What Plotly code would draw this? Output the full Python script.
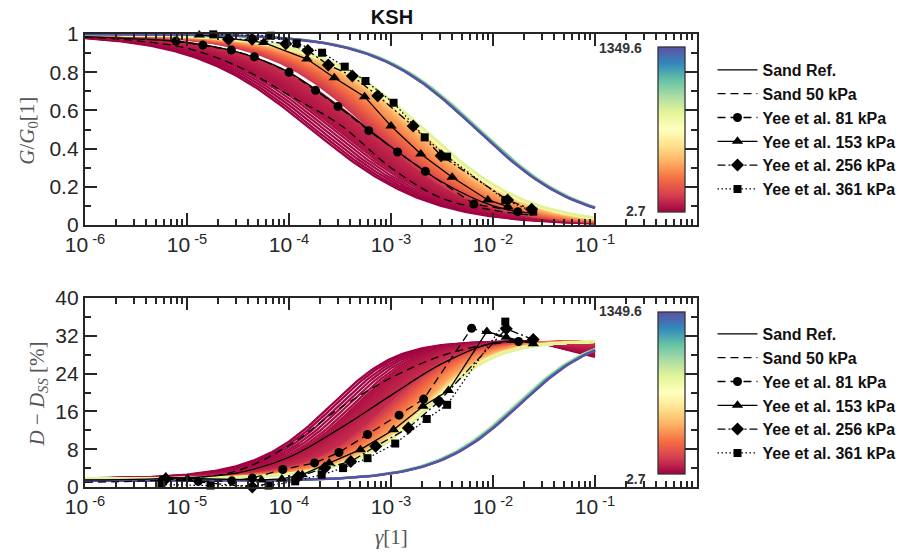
import numpy as np
import plotly.graph_objects as go
from plotly.colors import sample_colorscale

# ------------------------------------------------------------------
# Values
# ------------------------------------------------------------------
TITLE = "KSH"
P_MIN, P_MAX = 2.7, 1349.6          # colour-bar limits (kPa)
COLORSCALE = "Spectral"

X_TICK_VALS = [1e-6, 1e-5, 1e-4, 1e-3, 1e-2, 1e-1]
X_TICK_TEXT = ["10<sup> -6</sup>", "10<sup> -5</sup>", "10<sup> -4</sup>",
               "10<sup> -3</sup>", "10<sup> -2</sup>", "10<sup> -1</sup>"]
G_TICK_VALS = [0, 0.2, 0.4, 0.6, 0.8, 1.0]
G_TICK_TEXT = ["0", "0.2", "0.4", "0.6", "0.8", "1"]
D_TICK_VALS = [0, 8, 16, 24, 32, 40]
D_TICK_TEXT = ["0", "8", "16", "24", "32", "40"]

# Model-curve family: confining pressures of the plotted curves (kPa)
BAND_P_LOW = [2.7, 8, 14, 20, 26, 32, 37]
BAND_P_DENSE = [42, 46, 50, 54, 58, 62, 66, 70, 74, 78, 82, 86, 90, 94, 98]
BAND_P_UPPER = list(range(120, 823, 13))
# reference strains / curvature (pressure -> parameter)
BAND_ANCHOR_P = [2.7, 37, 42, 98, 120, 272, 407, 540, 680, 822]
BAND_ANCHOR_GREF = [1.66e-4, 2.95e-4, 3.1e-4, 6.0e-4, 6.4e-4, 1.02e-3, 1.58e-3, 1.9e-3, 2.03e-3, 2.1e-3]
BAND_ANCHOR_DREF = [3.36e-4, 5.9e-4, 6.2e-4, 1.17e-3, 1.25e-3, 1.82e-3, 2.6e-3, 2.95e-3, 3.1e-3, 3.16e-3]
BAND_ANCHOR_CURV = [0.75, 0.75, 0.75, 0.75, 0.84, 0.84, 0.84, 0.84, 0.84, 0.84]
BAND_D_MIN, BAND_D_MAX = 1.7, 30.9
BAND_D_EXP = (1.4, 0.7)
BAND_DECLINE_MAX = 0.115            # large-strain damping drop of the lowest curves

# High-pressure group (teal -> purple)
HI_P = [880, 975, 1070, 1160, 1255, 1349.6]
HI_GREF = [7.45e-3, 7.3e-3, 7.15e-3, 7.0e-3, 6.95e-3, 6.9e-3]
HI_DREF = [2.05e-2, 2.1e-2, 2.15e-2, 2.2e-2, 2.23e-2, 2.25e-2]
HI_CURV_G = 0.87
HI_D_MIN, HI_D_MAX = 1.3, 32.5
HI_D_EXP = (1.2, 0.8)

# Sand reference curves
SAND_REF_G_X = [1e-6, 3.16e-6, 1e-5, 3.16e-5, 1e-4, 3.16e-4, 1e-3, 3.16e-3, 1e-2, 2.5e-2]
SAND_REF_G_Y = [0.985, 0.975, 0.955, 0.905, 0.80, 0.615, 0.41, 0.225, 0.10, 0.06]
SAND50_G_X = [1e-6, 3.16e-6, 1e-5, 3.16e-5, 1e-4, 3.16e-4, 1e-3, 3.16e-3, 1e-2, 2.5e-2]
SAND50_G_Y = [0.983, 0.965, 0.925, 0.83, 0.68, 0.525, 0.30, 0.14, 0.078, 0.05]
SAND_REF_D_X = [1e-6, 1e-5, 3.16e-5, 1e-4, 3.16e-4, 1e-3, 3.16e-3, 1e-2, 2.5e-2]
SAND_REF_D_Y = [1.5, 2.0, 3.0, 6.3, 12.4, 19.4, 26.1, 30.5, 30.8]
SAND50_D_X = [1e-6, 1e-5, 3.16e-5, 1e-4, 3.16e-4, 1e-3, 3.16e-3, 1e-2, 2.5e-2]
SAND50_D_Y = [1.0, 1.8, 3.5, 8.8, 16.7, 23.1, 27.8, 30.3, 30.8]

# Yee et al. data - G/G0
YEE81_G_X = [7.8e-6, 1.43e-5, 2.72e-5, 4.57e-5, 1.0e-4, 1.82e-4, 3.02e-4, 6.05e-4, 1.16e-3, 2.17e-3, 6.5e-3, 1.75e-2]
YEE81_G_Y = [0.963, 0.942, 0.916, 0.881, 0.80, 0.705, 0.621, 0.494, 0.382, 0.281, 0.110, 0.070]
YEE153_G_X = [1.32e-5, 5.66e-5, 1.50e-4, 2.78e-4, 5.51e-4, 1.0e-3, 1.96e-3, 3.98e-3, 8.9e-3, 1.40e-2]
YEE153_G_Y = [0.995, 0.955, 0.869, 0.771, 0.672, 0.518, 0.372, 0.25, 0.131, 0.096]
YEE256_G_X = [2.55e-5, 4.35e-5, 9.3e-5, 1.53e-4, 2.43e-4, 4.18e-4, 7.41e-4, 1.65e-3, 3.10e-3, 1.39e-2, 2.39e-2]
YEE256_G_Y = [0.972, 0.972, 0.949, 0.913, 0.838, 0.78, 0.677, 0.518, 0.363, 0.131, 0.082]
YEE361_G_X = [1.81e-5, 6.64e-5, 1.19e-4, 2.11e-4, 3.52e-4, 5.62e-4, 1.06e-3, 2.14e-3, 3.55e-3, 1.32e-2, 2.48e-2]
YEE361_G_Y = [0.998, 0.991, 0.951, 0.902, 0.829, 0.754, 0.64, 0.459, 0.358, 0.131, 0.07]

# Yee et al. data - damping
YEE81_D_X = [5.75e-6, 1.29e-5, 2.75e-5, 4.37e-5, 8.7e-5, 1.78e-4, 3.09e-4, 5.89e-4, 1.20e-3, 2.09e-3, 6.17e-3, 1.78e-2]
YEE81_D_Y = [1.5, 1.2, 1.3, 1.9, 3.7, 5.1, 7.3, 11.1, 15.2, 18.6, 33.6, 30.8]
YEE153_D_X = [6.21e-6, 1.01e-5, 5.37e-5, 8.51e-5, 1.35e-4, 2.48e-4, 5.01e-4, 1.06e-3, 2.06e-3, 3.66e-3, 8.71e-3, 1.35e-2, 2.48e-2]
YEE153_D_Y = [2.1, 1.8, 1.5, 1.7, 2.6, 5.1, 7.9, 12.1, 17.1, 20.4, 32.9, 31.7, 30.3]
YEE256_D_X = [6.17e-6, 4.37e-5, 1.23e-4, 2.24e-4, 4.03e-4, 7.08e-4, 1.48e-3, 2.95e-3, 1.35e-2, 2.48e-2]
YEE256_D_Y = [1.7, 0.0, 2.2, 4.0, 5.4, 8.6, 12.5, 18.1, 33.5, 31.2]
YEE361_D_X = [5.62e-6, 1.70e-5, 6.31e-5, 1.15e-4, 2.09e-4, 3.39e-4, 5.89e-4, 1.10e-3, 2.24e-3, 3.55e-3, 1.32e-2]
YEE361_D_Y = [0.5, 0.3, 0.3, 1.2, 2.6, 4.0, 6.1, 9.2, 14.4, 17.4, 35.0]

# ------------------------------------------------------------------
# Geometry helpers (pixels of the 904x556 canvas)
# ------------------------------------------------------------------
W, H = 904, 556
L, R, T, B = 77, 697, 34, 487


def px(xp):
    return (xp - L) / (R - L)


def py(yp):
    return (B - yp) / (B - T)


AX_COL = "#262626"
GAMMA = np.logspace(-6, -1, 170)


def col(p):
    return sample_colorscale(COLORSCALE, [(p - P_MIN) / (P_MAX - P_MIN)])[0]


def g_curve(gr, a):
    return 1.0 / (1.0 + (GAMMA / gr) ** a)


def d_curve(gd, c, q, dmin, dmax):
    x = (GAMMA / gd) ** c
    return dmin + (dmax - dmin) * (x / (1 + x)) ** q


fig = go.Figure()

band_p = BAND_P_LOW + BAND_P_DENSE + BAND_P_UPPER
logp_g = np.log10(BAND_ANCHOR_GREF)
logp_d = np.log10(BAND_ANCHOR_DREF)
decline_shape = np.clip((np.log10(GAMMA) + 1.6) / 0.6, 0, 1)

curves = []
for p in band_p:
    gr = 10 ** np.interp(p, BAND_ANCHOR_P, logp_g)
    gd = 10 ** np.interp(p, BAND_ANCHOR_P, logp_d)
    a = np.interp(p, BAND_ANCHOR_P, BAND_ANCHOR_CURV)
    gg = g_curve(gr, a)
    dd = d_curve(gd, *BAND_D_EXP, BAND_D_MIN, BAND_D_MAX)
    delta = BAND_DECLINE_MAX * max(0.0, 1 - (p - 2.7) / 115.0)
    dd = BAND_D_MIN + (dd - BAND_D_MIN) * (1 - delta * decline_shape)
    curves.append((p, gg, dd))
for p, gr, gd in zip(HI_P, HI_GREF, HI_DREF):
    gg = g_curve(gr, HI_CURV_G)
    dd = d_curve(gd, *HI_D_EXP, HI_D_MIN, HI_D_MAX)
    curves.append((p, gg, dd))

for p, gg, dd in curves:
    c = col(p)
    fig.add_trace(go.Scatter(x=GAMMA, y=gg, mode="lines", line=dict(color=c, width=2.3),
                             showlegend=False, hoverinfo="skip", xaxis="x", yaxis="y"))
    fig.add_trace(go.Scatter(x=GAMMA, y=dd, mode="lines", line=dict(color=c, width=2.3),
                             showlegend=False, hoverinfo="skip", xaxis="x2", yaxis="y2"))

# colour bars (dummy marker traces outside the visible range)
for ax, yaxis, top, length in (("x", "y", 47, 165), ("x2", "y2", 312, 162)):
    fig.add_trace(go.Scatter(
        x=[1e-3, 1e-3], y=[-100, -100], mode="markers", xaxis=ax, yaxis=yaxis,
        showlegend=False, hoverinfo="skip",
        marker=dict(size=1, color=[P_MIN, P_MAX], cmin=P_MIN, cmax=P_MAX,
                    colorscale=COLORSCALE, showscale=True,
                    colorbar=dict(x=px(657), xanchor="left", y=py(top), yanchor="top",
                                  thickness=27, thicknessmode="pixels",
                                  len=length, lenmode="pixels", xpad=0, ypad=0,
                                  outlinewidth=1.3, outlinecolor="#333333",
                                  ticks="", showticklabels=False))))

BLACK = "#000000"
series = [
    ("Sand Ref.", SAND_REF_G_X, SAND_REF_G_Y, SAND_REF_D_X, SAND_REF_D_Y, "solid", None, 0),
    ("Sand 50 kPa", SAND50_G_X, SAND50_G_Y, SAND50_D_X, SAND50_D_Y, "8px,5px", None, 0),
    ("Yee et al. 81 kPa", YEE81_G_X, YEE81_G_Y, YEE81_D_X, YEE81_D_Y, "8px,5px", "circle", 9),
    ("Yee et al. 153 kPa", YEE153_G_X, YEE153_G_Y, YEE153_D_X, YEE153_D_Y, "solid", "triangle-up", 10),
    ("Yee et al. 256 kPa", YEE256_G_X, YEE256_G_Y, YEE256_D_X, YEE256_D_Y, "8px,3px,2px,3px", "diamond", 10),
    ("Yee et al. 361 kPa", YEE361_G_X, YEE361_G_Y, YEE361_D_X, YEE361_D_Y, "1.5px,2.5px", "square", 8),
]
for name, gx, gy, dx, dy, dash, sym, msize in series:
    for xs, ys, ax, yaxis, leg in ((gx, gy, "x", "y", "legend"), (dx, dy, "x2", "y2", "legend2")):
        kw = dict(x=xs, y=ys, name=name, xaxis=ax, yaxis=yaxis, legend=leg,
                  line=dict(color=BLACK, width=1.3, dash=dash), hoverinfo="skip",
                  cliponaxis=False)
        if sym is None:
            kw.update(mode="lines", line_shape="spline")
        else:
            kw.update(mode="lines+markers", marker=dict(symbol=sym, size=msize, color=BLACK))
        fig.add_trace(go.Scatter(**kw))

tickfont = dict(family="Liberation Sans, Arial, sans-serif", size=21, color=AX_COL)
axis_common = dict(showline=True, linewidth=2.4, linecolor=AX_COL, mirror="ticks",
                   ticks="inside", ticklen=12, tickwidth=2, tickcolor=AX_COL,
                   showgrid=False, zeroline=False, tickfont=tickfont)
xaxis_common = dict(axis_common, type="log", range=[-6, 0], tickmode="array",
                    tickvals=X_TICK_VALS, ticktext=X_TICK_TEXT,
                    minor=dict(ticks="inside", ticklen=6, tickwidth=2, tickcolor=AX_COL,
                               dtick="D1", showgrid=False))
legend_common = dict(x=px(712.7), xanchor="left", yanchor="top",
                     bgcolor="rgba(0,0,0,0)", borderwidth=0, itemwidth=40, tracegroupgap=0,
                     font=dict(family="Liberation Sans, Arial, sans-serif", size=16,
                               weight="bold", color="#111111"))

fig.update_layout(
    width=W, height=H,
    margin=dict(l=L, r=W - R, t=T, b=H - B),
    paper_bgcolor="white", plot_bgcolor="white",
    font=dict(family="Liberation Sans, Arial, sans-serif", color=AX_COL),
    title=dict(text=TITLE, x=px(388), xref="paper", xanchor="center",
               y=1 - 17 / H, yref="container", yanchor="middle",
               font=dict(size=20, weight="bold", color="#111111")),
    xaxis=dict(xaxis_common, domain=[0, 1], anchor="y"),
    yaxis=dict(axis_common, domain=[py(225), 1], anchor="x", range=[0, 1],
               tickmode="array", tickvals=G_TICK_VALS, ticktext=G_TICK_TEXT,
               minor=dict(ticks="inside", ticklen=6, tickwidth=2, tickcolor=AX_COL,
                          dtick=0.1, showgrid=False)),
    xaxis2=dict(xaxis_common, domain=[0, 1], anchor="y2"),
    yaxis2=dict(axis_common, domain=[0, py(298)], anchor="x2", range=[0, 40],
                tickmode="array", tickvals=D_TICK_VALS, ticktext=D_TICK_TEXT,
                minor=dict(ticks="inside", ticklen=6, tickwidth=2, tickcolor=AX_COL,
                           dtick=4, showgrid=False)),
    legend=dict(legend_common, y=py(53)),
    legend2=dict(legend_common, y=py(317)),
)

serif = dict(family="Liberation Serif, DejaVu Serif, serif", size=21, color="#555555")
lab = dict(family="Liberation Sans, Arial, sans-serif", size=14, color="#333333", weight="bold")
annotations = [
    dict(text="<i>G</i>/<i>G</i><sub>0</sub>[1]", x=px(19), y=py(131), textangle=-90, font=serif),
    dict(text="<i>D</i> \u2212 <i>D</i><sub><i>SS</i></sub> [%]", x=px(29), y=py(394), textangle=-90, font=serif),
    dict(text="<i>\u03b3</i>[1]", x=px(387), y=py(537), font=serif),
    dict(text="1349.6", x=px(643), y=py(48), xanchor="right", font=lab),
    dict(text="2.7", x=px(647), y=py(211), xanchor="right", font=lab),
    dict(text="1349.6", x=px(643), y=py(311), xanchor="right", font=lab),
    dict(text="2.7", x=px(647), y=py(479), xanchor="right", font=lab),
]
for a in annotations:
    a.update(xref="paper", yref="paper", showarrow=False)
    a.setdefault("xanchor", "center")
    a.setdefault("yanchor", "middle")
fig.update_layout(annotations=annotations)

fig.write_html("out.html", config={"displayModeBar": False},
               post_script="document.body.style.marginTop='0';")
